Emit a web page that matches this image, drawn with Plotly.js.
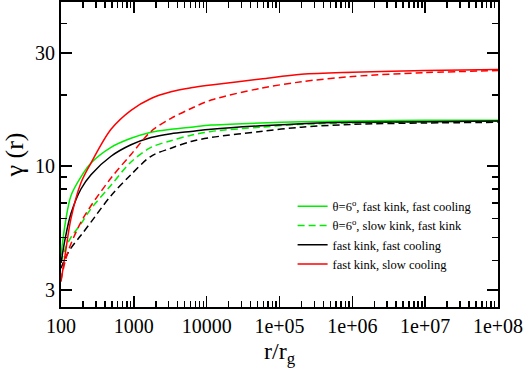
<!DOCTYPE html>
<html>
<head>
<meta charset="utf-8">
<script src="https://cdn.plot.ly/plotly-3.0.1.min.js"></script>
<style>
  body { margin: 0; padding: 0; background: #fff; }
  #plot { width: 527px; height: 372px; }
</style>
</head>
<body>
<div id="plot"></div>
<script>
// radius r/r_g where curves were read
var radius = [100, 115, 137, 188, 258, 486, 914, 1720, 3240, 6100, 11500, 55000, 2e5, 1e6, 1e7, 1e8];

// gamma(r) for each model
var greenFast = [4.2, 5.8, 7.5, 9.0, 10.3, 12.0, 13.1, 13.9, 14.3, 14.6, 14.9, 15.2, 15.4, 15.5, 15.6, 15.6];
var greenSlow = [3.9, 4.5, 5.0, 5.7, 6.6, 8.3, 10.4, 12.0, 12.8, 13.5, 14.0, 14.6, 15.0, 15.2, 15.4, 15.5];
var blackFast = [3.9, 5.0, 6.3, 8.0, 9.2, 11.0, 12.3, 13.2, 13.7, 14.0, 14.3, 14.8, 15.1, 15.3, 15.4, 15.5];
var blackSlow = [3.7, 4.1, 4.5, 5.1, 5.8, 7.5, 9.2, 11.0, 11.9, 12.7, 13.2, 14.0, 14.6, 15.0, 15.2, 15.3];
var redFast = [3.25, 4.3, 6.0, 8.5, 10.3, 14.3, 17.2, 19.3, 20.6, 21.4, 22.0, 23.3, 24.4, 24.9, 25.3, 25.6];
var redSlow = [3.3, 4.0, 4.7, 5.8, 6.8, 8.9, 11.2, 14.0, 15.9, 17.5, 19.0, 21.3, 22.7, 23.9, 24.8, 25.3];

// tick labels
var xTicks = [100, 1000, 10000, 1e5, 1e6, 1e7, 1e8];
var xTickText = ["100", "1000", "10000", "1e+05", "1e+06", "1e+07", "1e+08"];
var yTicks = [3, 10, 30];
var yMinor = [4, 5, 6, 7, 8, 9, 20, 40];

var xMinor = [];
xTicks.slice(0, -1).forEach(function (d) {
  for (var k = 2; k <= 9; k++) xMinor.push(d * k);
});

var serif = "'Liberation Serif', 'Times New Roman', serif";
var dashPat = "7px,4px";

function curve(y, name, color, dashed, showleg) {
  return {
    x: radius,
    y: y,
    name: name,
    mode: "lines",
    type: "scatter",
    showlegend: showleg,
    line: { color: color, width: 1.5, shape: "spline", smoothing: 0.9, dash: dashed ? dashPat : "solid" }
  };
}

var data = [
  curve(greenFast, "\u03b8=6<sup>o</sup>, fast kink, fast cooling", "#00ee00", false, true),
  curve(greenSlow, "\u03b8=6<sup>o</sup>, slow kink, fast kink", "#00ee00", true, true),
  curve(blackFast, "fast kink, fast cooling", "#000000", false, true),
  curve(blackSlow, "black dashed", "#000000", true, false),
  curve(redFast, "fast kink, slow cooling", "#ff0000", false, true),
  curve(redSlow, "red dashed", "#ff0000", true, false)
];

var axisCommon = {
  showline: true,
  linecolor: "#000",
  linewidth: 2,
  mirror: "allticks",
  ticks: "inside",
  ticklen: 11,
  tickwidth: 1.5,
  tickcolor: "#000",
  showgrid: false,
  zeroline: false,
  tickfont: { family: serif, size: 20, color: "#000" }
};

var layout = {
  width: 527,
  height: 372,
  margin: { l: 61, r: 29, t: 2, b: 65 },
  paper_bgcolor: "#fff",
  plot_bgcolor: "#fff",
  font: { family: serif, color: "#000" },
  xaxis: Object.assign({}, axisCommon, {
    type: "log",
    range: [2, 8],
    tickmode: "array",
    tickvals: xTicks,
    ticktext: xTickText,
    minor: { tickmode: "array", tickvals: xMinor, ticks: "inside", ticklen: 6, tickwidth: 1.5, tickcolor: "#000", showgrid: false },
    title: { text: "r/r<sub>g</sub>", font: { family: serif, size: 24 }, standoff: 6 }
  }),
  yaxis: Object.assign({}, axisCommon, {
    type: "log",
    range: [Math.log10(2.54), Math.log10(49.3)],
    tickmode: "array",
    tickvals: yTicks,
    ticktext: yTicks.map(String),
    minor: { tickmode: "array", tickvals: yMinor, ticks: "inside", ticklen: 6, tickwidth: 1.5, tickcolor: "#000", showgrid: false },
    title: { text: "\u03b3 (r)", font: { family: serif, size: 26 }, standoff: 8 }
  }),
  legend: {
    x: 0.53,
    y: 0.378,
    xanchor: "left",
    yanchor: "top",
    bgcolor: "rgba(0,0,0,0)",
    font: { family: serif, size: 12.5, color: "#000" },
    tracegroupgap: 0
  },
  showlegend: true
};

Plotly.newPlot("plot", data, layout, { displayModeBar: false, staticPlot: true });
</script>
</body>
</html>
